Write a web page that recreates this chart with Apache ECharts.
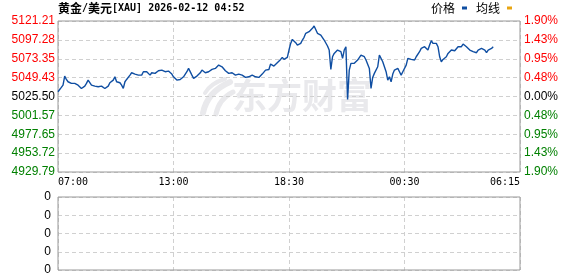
<!DOCTYPE html>
<html><head><meta charset="utf-8">
<script src="https://cdn.jsdelivr.net/npm/echarts@6/dist/echarts.min.js"></script>
<style>html,body{margin:0;padding:0;background:#fff}#c{width:578px;height:276px}</style>
</head><body><div id="c"></div>
<script>
// ---- data ----
const timeLabels = ['07:00', '13:00', '18:30', '00:30', '06:15'];
const slotsPerLabel = 69;
const priceAxisLabels = ['4929.79','4953.72','4977.65','5001.57','5025.50','5049.43','5073.35','5097.28','5121.21'];
const pctAxisLabels = ['1.90%','1.43%','0.95%','0.48%','0.00%','0.48%','0.95%','1.43%','1.90%'];
const volAxisLabels = ['0','0','0','0','0'];
const priceMin = 4929.79, priceMax = 5121.21, priceStep = 23.9275;
const priceValues = [
5031.5,5034.4,5037.0,5039.9,5051.4,5047.1,5044.2,5042.9,5042.1,5042.9,
5042.1,5041.2,5039.9,5041.2,5035.7,5037.8,5038.7,5042.1,5046.3,5045.0,
5039.9,5037.8,5038.7,5039.9,5037.8,5039.9,5038.7,5039.9,5035.7,5034.4,
5038.7,5042.9,5044.2,5046.3,5050.5,5044.2,5042.1,5042.9,5039.9,5035.7,
5044.2,5047.1,5048.4,5052.6,5055.6,5053.9,5053.9,5054.8,5052.6,5050.5,
5052.6,5056.9,5058.1,5056.9,5054.8,5052.6,5055.6,5056.9,5054.8,5055.6,
5058.1,5056.9,5059.0,5058.1,5056.9,5057.7,5057.7,5056.9,5053.9,5050.5,
5048.4,5046.3,5045.4,5047.1,5048.4,5050.5,5052.6,5056.9,5061.1,5063.2,
5052.6,5048.4,5049.7,5051.4,5052.6,5055.6,5059.0,5056.9,5055.6,5058.1,
5056.9,5056.9,5059.8,5059.0,5061.1,5063.2,5065.3,5066.6,5063.2,5061.1,
5058.1,5055.6,5054.8,5056.9,5055.6,5053.9,5052.6,5051.4,5053.9,5052.6,
5052.6,5051.4,5049.7,5048.4,5050.5,5051.4,5052.6,5051.4,5050.5,5048.4,
5049.7,5051.4,5053.9,5054.8,5059.0,5061.1,5059.8,5066.6,5066.6,5064.1,
5065.3,5068.3,5070.8,5072.5,5075.1,5072.5,5070.8,5075.1,5084.4,
5092.8,5097.9,5096.2,5093.7,5090.7,5088.6,5092.8,5097.1,5100.5,5105.6,
5106.8,5107.7,5109.8,5111.9,5114.9,5113.2,5105.6,5107.7,5103.4,5101.3,
5097.1,5095.0,5089.5,5084.4,5059.8,5075.9,5080.1,5082.3,5084.4,5083.5,
5082.3,5073.8,5084.4,5088.6,5021.7,5059.0,5067.5,5065.3,5067.5,5069.6,
5071.7,5073.8,5078.0,5080.1,5075.9,5071.7,5069.6,5061.1,5035.7,5049.7,
5054.8,5056.9,5063.2,5078.0,5078.0,5069.6,5067.5,5056.9,5046.3,5050.5,
5044.2,5053.9,5059.0,5056.9,5061.1,5056.9,5052.6,5056.9,5058.1,5065.3,
5073.8,5075.1,5072.5,5073.8,5071.7,5075.9,5078.0,5082.3,5086.5,5084.4,
5088.6,5086.5,5084.4,5090.7,5096.2,5092.8,5090.7,5092.8,5088.6,5075.9,
5069.6,5072.5,5073.8,5075.9,5080.1,5082.3,5084.4,5082.3,5083.5,5085.2,
5088.6,5086.5,5088.6,5092.0,5090.7,5088.6,5086.5,5084.4,5085.2,5082.3,
5084.4,5081.0,5084.4,5086.5,5086.5,5085.2,5084.4,5081.0,5084.4,5085.2,
5086.5,5088.6
];
const avgValues = [];
const volumeValues = [];

// ---- chart ----
const slotCount = slotsPerLabel * (timeLabels.length - 1) + 1;
const categories = Array.from({length: slotCount}, (_, i) => String(i));
const mono = '"DejaVu Sans Mono", "Liberation Mono", monospace';
const sans = '"Liberation Sans", Arial, sans-serif';
const cjk = '"Noto Sans CJK SC", sans-serif';
const RED = '#ff0000', GREEN = '#008000', BLACK = '#000';
const labelRich = {
  r: {color: RED, fontSize: 12, fontFamily: sans},
  k: {color: BLACK, fontSize: 12, fontFamily: sans},
  g: {color: GREEN, fontSize: 12, fontFamily: sans}
};
function tickIndex(v) { return Math.round((v - priceMin) / priceStep); }
function cls(i) { return i > 4 ? 'r' : (i === 4 ? 'k' : 'g'); }
const dashed = {color: '#d0d0d0', type: [4, 3], width: 1};
const wm = '#e9e9ec';

try {
const chart = echarts.init(document.getElementById('c'), null, {renderer: 'canvas'});
chart.setOption({
  animation: false,
  backgroundColor: '#fff',
  title: {
    text: '{c|黄金}{m|/}{c|美元}{m|[XAU] 2026-02-12 04:52}',
    left: 58, top: 2, padding: 0,
    textStyle: {
      rich: {
        c: {fontFamily: cjk, fontSize: 12, color: '#000'},
        m: {fontFamily: mono, fontSize: 10, color: '#000'}
      }
    }
  },
  legend: {
    data: ['价格', '均线'],
    right: 66, top: 2, padding: 0,
    align: 'right', icon: 'rect', itemWidth: 5, itemHeight: 3, itemGap: 9,
    textStyle: {fontFamily: cjk, fontSize: 12, color: '#000', padding: [0, 2, 0, 0]}
  },
  graphic: [
    {type: 'text', left: 232, top: 78, z: 0, silent: true,
     style: {text: '东方财富', fill: wm, font: 'bold 35px "Noto Sans CJK SC"'}},
    {type: 'bezierCurve', z: 0, silent: true,
     shape: {x1: 203, y1: 113, cpx1: 207, cpy1: 92, x2: 230, y2: 82},
     style: {stroke: wm, lineWidth: 6, fill: null, lineCap: 'round'}},
    {type: 'bezierCurve', z: 0, silent: true,
     shape: {x1: 216, y1: 114, cpx1: 219, cpy1: 99, x2: 233, y2: 92},
     style: {stroke: wm, lineWidth: 5, fill: null, lineCap: 'round'}},
    {type: 'bezierCurve', z: 0, silent: true,
     shape: {x1: 205, y1: 93, cpx1: 211, cpy1: 83, x2: 225, y2: 79},
     style: {stroke: wm, lineWidth: 4, fill: null, lineCap: 'round'}}
  ],
  grid: [
    {left: 58, right: 58, top: 21, height: 151, show: true, borderColor: '#999', borderWidth: 1, backgroundColor: 'transparent', z: 3},
    {left: 58, right: 58, top: 197, height: 73, show: true, borderColor: '#999', borderWidth: 1, backgroundColor: 'transparent', z: 3}
  ],
  xAxis: [
    {type: 'category', gridIndex: 0, data: categories, boundaryGap: false,
     axisLine: {show: false}, axisTick: {show: false},
     axisLabel: {interval: slotsPerLabel - 1, margin: 5, fontFamily: mono, fontSize: 10, color: '#000',
       alignMinLabel: 'left', alignMaxLabel: 'right',
       formatter: (v, i) => timeLabels[Math.round(i / slotsPerLabel)] || ''},
     splitLine: {show: true, interval: slotsPerLabel - 1, lineStyle: dashed}},
    {type: 'category', gridIndex: 1, data: categories, boundaryGap: false,
     axisLine: {show: false}, axisTick: {show: false}, axisLabel: {show: false},
     splitLine: {show: true, interval: slotsPerLabel - 1, lineStyle: dashed}}
  ],
  yAxis: [
    {type: 'value', gridIndex: 0, position: 'left', min: priceMin, max: priceMax, interval: priceStep,
     axisLine: {show: false}, axisTick: {show: false},
     axisLabel: {margin: 3, rich: labelRich,
       formatter: v => { const i = tickIndex(v); return '{' + cls(i) + '|' + priceAxisLabels[i] + '}'; }},
     splitLine: {show: true, lineStyle: dashed}},
    {type: 'value', gridIndex: 0, position: 'right', min: priceMin, max: priceMax, interval: priceStep,
     axisLine: {show: false}, axisTick: {show: false},
     axisLabel: {margin: 4, rich: labelRich,
       formatter: v => { const i = tickIndex(v); return '{' + cls(i) + '|' + pctAxisLabels[i] + '}'; }},
     splitLine: {show: false}},
    {type: 'value', gridIndex: 1, position: 'left', min: 0, max: 4, interval: 1,
     axisLine: {show: false}, axisTick: {show: false},
     axisLabel: {margin: 7, fontFamily: sans, fontSize: 12, color: '#000',
       formatter: v => volAxisLabels[Math.round(v)]},
     splitLine: {show: true, lineStyle: dashed}}
  ],
  series: [
    {name: '价格', type: 'line', xAxisIndex: 0, yAxisIndex: 0, data: priceValues,
     showSymbol: false, symbol: 'none', z: 5,
     itemStyle: {color: '#0f4ea2'}, lineStyle: {color: '#0f4ea2', width: 1.4}},
    {name: '均线', type: 'line', xAxisIndex: 0, yAxisIndex: 0, data: avgValues,
     showSymbol: false, symbol: 'none',
     itemStyle: {color: '#e8a512'}, lineStyle: {color: '#e8a512', width: 1}},
    {name: '成交量', type: 'bar', xAxisIndex: 1, yAxisIndex: 2, data: volumeValues}
  ]
});
} catch (err) {
  const d = document.createElement('pre');
  d.style.cssText = 'position:absolute;left:0;top:100px;font-size:9px;color:red;';
  d.textContent = String(err && err.stack || err);
  document.body.appendChild(d);
}
</script>
</body></html>
